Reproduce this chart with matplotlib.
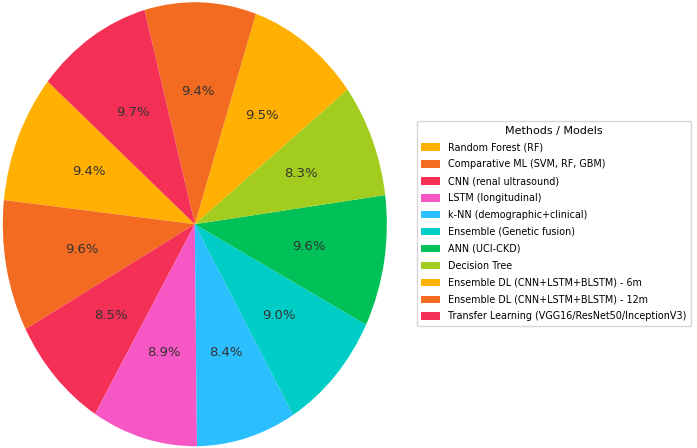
import numpy as np
import matplotlib
matplotlib.use('Agg')
import matplotlib.pyplot as plt

# model names and their reported accuracies (%)
methods = ['Random Forest (RF)', 'Comparative ML (SVM, RF, GBM)', 'CNN (renal ultrasound)',
           'LSTM (longitudinal)', 'k-NN (demographic+clinical)', 'Ensemble (Genetic fusion)',
           'ANN (UCI-CKD)', 'Decision Tree', 'Ensemble DL (CNN+LSTM+BLSTM) - 6m',
           'Ensemble DL (CNN+LSTM+BLSTM) - 12m', 'Transfer Learning (VGG16/ResNet50/InceptionV3)']
accuracy = [94, 96, 85, 89, 84, 90, 96, 83, 95, 94, 97]
colors = ['#FFB000', '#F26B21', '#F53056', '#F757C5', '#2BBFFF', '#00CDC5',
          '#00C157', '#A3CD1E', '#FFB000', '#F26B21', '#F53056']

fig = plt.figure(figsize=(6.97, 4.48), dpi=100)
ax = fig.add_axes([0.004, 0.004, 0.551, 0.991])
wedges, texts, autotexts = ax.pie(accuracy, colors=colors, startangle=140,
                                  autopct='%1.1f%%', pctdistance=0.6,
                                  textprops={'fontsize': 9.5, 'color': '#333333'})
# pie in the reference is stretched vertically
ax.set_aspect('auto')
ax.set_xlim(-1, 1)
ax.set_ylim(-1, 1)

fig.legend(wedges, methods, title='Methods / Models', loc='upper left',
           bbox_to_anchor=(0.591, 0.740), fontsize=6.9, title_fontsize=8,
           handlelength=2.0, handleheight=0.8, handletextpad=0.8,
           labelspacing=0.72, borderpad=0.45, frameon=True)

plt.savefig('out.png', dpi=100)
